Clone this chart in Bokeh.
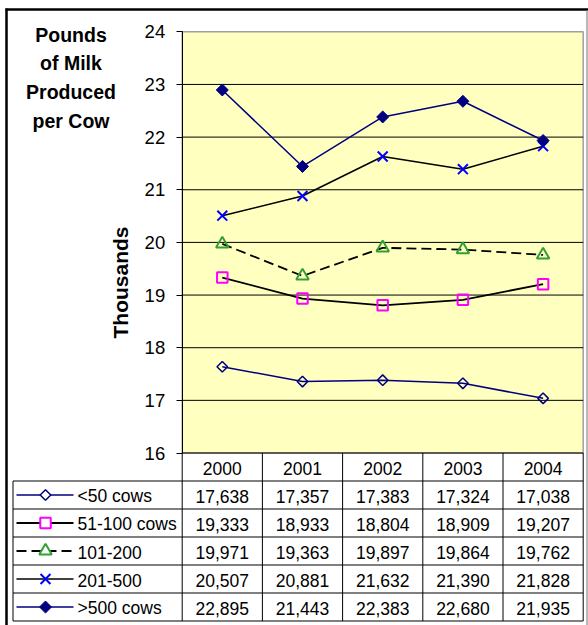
import math
from bokeh.plotting import figure
from bokeh.models import Range1d, FixedTicker, Label, LinearAxis
from bokeh.embed import file_html
from bokeh.resources import INLINE
from bokeh.core.properties import value

# ---------------- data ----------------
years = ["2000", "2001", "2002", "2003", "2004"]
series_names = ["<50 cows", "51-100 cows", "101-200", "201-500", ">500 cows"]
cows_lt50 = [17638, 17357, 17383, 17324, 17038]
cows_51_100 = [19333, 18933, 18804, 18909, 19207]
cows_101_200 = [19971, 19363, 19897, 19864, 19762]
cows_201_500 = [20507, 20881, 21632, 21390, 21828]
cows_gt500 = [22895, 21443, 22383, 22680, 21935]
y_ticks = [16, 17, 18, 19, 20, 21, 22, 23, 24]
title_text = "Pounds\nof Milk\nProduced\nper Cow"
y_label = "Thousands"

series_values = [cows_lt50, cows_51_100, cows_101_200, cows_201_500, cows_gt500]

# ---------------- layout helpers (page pixels -> data units) ----------------
W, H = 588, 625
X_ORIGIN, COL_W = 181.7, 80.2     # left edge of plot area, width of one year column
Y_BASE, UNIT = 452.5, 52.65        # pixel row of y=16, pixels per thousand pounds
Y_MIN, Y_MAX = y_ticks[0], y_ticks[-1]


def dx(px):
    return (px - X_ORIGIN) / COL_W


def dy(py):
    return Y_MIN - (py - Y_BASE) / UNIT


ROW_H = 28 / UNIT                  # table row height in data units
FONT = value("Liberation Sans")
TABLE_FONT_SIZE = "17.5px"

styles = [
    dict(line_color="#000080", line_width=1.5, line_dash="solid",
         marker="square", angle=math.pi / 4, size=7.5, m_line="#000080", m_fill=None, m_lw=1.5),
    dict(line_color="#000000", line_width=1.8, line_dash="solid",
         marker="square", angle=0, size=10.5, m_line="#FF00FF", m_fill=None, m_lw=2),
    dict(line_color="#000000", line_width=1.8, line_dash="10 5",
         marker="triangle", angle=0, size=12.5, m_line="#33A033", m_fill=None, m_lw=2),
    dict(line_color="#000000", line_width=1.5, line_dash="solid",
         marker="x", angle=0, size=14, m_line="#0000FF", m_fill=None, m_lw=2),
    dict(line_color="#000080", line_width=1.5, line_dash="solid",
         marker="square", angle=math.pi / 4, size=8.5, m_line="#000080", m_fill="#000080", m_lw=1),
]

p = figure(width=W, height=H, x_range=Range1d(dx(0), dx(W)), y_range=Range1d(dy(H), dy(0)),
           output_backend="svg", toolbar_location=None,
           x_axis_location=None, y_axis_location=None,
           min_border=0, min_border_left=0, min_border_right=0,
           min_border_top=0, min_border_bottom=0)
p.grid.visible = False
p.outline_line_color = None
p.background_fill_color = "white"
p.border_fill_color = "white"

ncol = len(years)
xs = [i + 0.5 for i in range(ncol)]

# outer chart border
p.segment(x0=[dx(6)], y0=[dy(8)], x1=[dx(6)], y1=[dy(H)], line_color="black", line_width=2.5)
p.segment(x0=[dx(5)], y0=[dy(9)], x1=[dx(W)], y1=[dy(9)], line_color="black", line_width=2.5)
p.segment(x0=[dx(586.5)], y0=[dy(10)], x1=[dx(586.5)], y1=[dy(H)], line_color="#A0A0A0", line_width=1.5)

# plot area
p.quad(left=[0], right=[ncol], bottom=[Y_MIN], top=[Y_MAX], fill_color="#FFFFC0",
       line_color="#A0A0A0", line_width=1.5)
grid_vals = y_ticks[:-1]
p.segment(x0=[0] * len(grid_vals), y0=grid_vals, x1=[ncol] * len(grid_vals), y1=grid_vals,
          line_color="black", line_width=1)

yaxis = LinearAxis(ticker=FixedTicker(ticks=y_ticks), bounds=(Y_MIN, Y_MAX), fixed_location=0)
yaxis.major_tick_out = 6
yaxis.major_tick_in = 0
yaxis.minor_tick_line_color = None
yaxis.axis_line_color = "black"
yaxis.major_tick_line_color = "black"
yaxis.major_label_text_font = "Liberation Sans"
yaxis.major_label_text_font_size = "18.5px"
yaxis.major_label_text_color = "black"
yaxis.major_label_standoff = 11
p.add_layout(yaxis, "left")

for vals, st in zip(series_values, styles):
    ys = [v / 1000 for v in vals]
    p.line(x=xs, y=ys, line_color=st["line_color"], line_width=st["line_width"],
           line_dash=st["line_dash"])
    p.scatter(x=xs, y=ys, marker=st["marker"], size=st["size"], angle=st["angle"],
              line_color=st["m_line"], fill_color=st["m_fill"], line_width=st["m_lw"])

# axis title and chart title
p.add_layout(Label(x=dx(120), y=dy(282), text=y_label, angle=math.pi / 2,
                   text_align="center", text_baseline="middle",
                   text_font="Liberation Sans", text_font_style="bold",
                   text_font_size="21px", text_color="black"))
p.add_layout(Label(x=dx(70.5), y=dy(23), text=title_text,
                   text_align="center", text_baseline="top",
                   text_font="Liberation Sans", text_font_style="bold",
                   text_font_size="19.5px", text_color="black", text_line_height=1.31))

# ---------------- data table ----------------
n_rows = len(series_names)
row_lines = [Y_MIN - k * ROW_H for k in range(1, n_rows + 2)]
LEFT = dx(12.5)
table_bottom = row_lines[-1]
# horizontal lines
p.segment(x0=[LEFT] * len(row_lines), y0=row_lines, x1=[ncol] * len(row_lines), y1=row_lines,
          line_color="black", line_width=1)
# vertical lines
p.segment(x0=list(range(ncol + 1)), y0=[Y_MIN] * (ncol + 1),
          x1=list(range(ncol + 1)), y1=[table_bottom] * (ncol + 1), line_color="black", line_width=1)
p.segment(x0=[LEFT], y0=[row_lines[0]], x1=[LEFT], y1=[table_bottom], line_color="black", line_width=1)

# header (years)
p.text(x=xs, y=[Y_MIN - 0.5 * ROW_H - 1 / UNIT] * ncol, text=years,
       text_align="center", text_baseline="middle", text_font=FONT,
       text_font_size=TABLE_FONT_SIZE, text_color="black")

# values
for r, vals in enumerate(series_values):
    yc = Y_MIN - (r + 1.5) * ROW_H - 1 / UNIT
    p.text(x=xs, y=[yc] * ncol, text=[f"{v:,}" for v in vals],
           text_align="center", text_baseline="middle",
           text_font=FONT, text_font_size=TABLE_FONT_SIZE, text_color="black")

# legend keys
for r, (name, st) in enumerate(zip(series_names, styles)):
    yc = Y_MIN - (r + 1.5) * ROW_H
    p.line(x=[dx(16), dx(73)], y=[yc, yc], line_color=st["line_color"],
           line_width=st["line_width"], line_dash=st["line_dash"])
    p.scatter(x=[dx(45)], y=[yc], marker=st["marker"], size=st["size"], angle=st["angle"],
              line_color=st["m_line"], fill_color=st["m_fill"] if st["m_fill"] else "white",
              line_width=st["m_lw"])
    p.text(x=[dx(77)], y=[yc - 1 / UNIT], text=[name], text_align="left", text_baseline="middle",
           text_font=FONT, text_font_size=TABLE_FONT_SIZE, text_color="black")

open("out.html", "w").write(file_html(p, INLINE))
